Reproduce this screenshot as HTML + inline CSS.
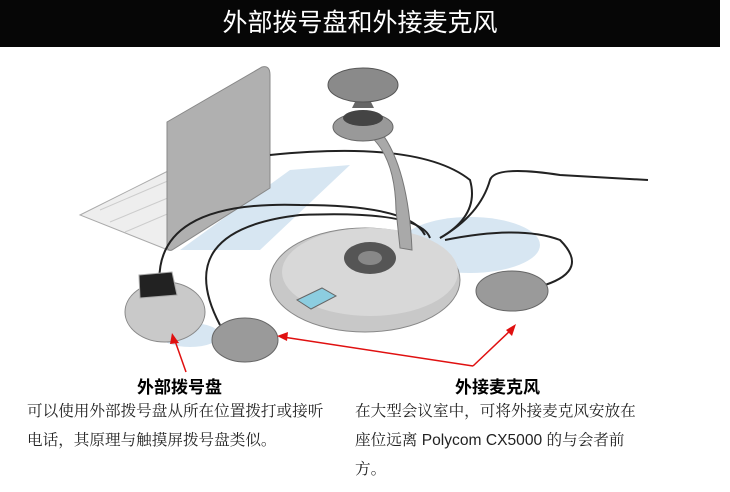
<!DOCTYPE html>
<html><head><meta charset="utf-8"><style>
body{margin:0;width:730px;height:492px;background:#fff;position:relative;overflow:hidden;font-family:"Liberation Sans","Noto Sans CJK SC",sans-serif}
.bar{position:absolute;left:0;top:0;width:720px;height:47px;background:#060606;color:#fff;font-size:25px;text-align:center;line-height:47px;font-family:"Liberation Sans","WenQuanYi Zen Hei",sans-serif}
.h{position:absolute;font-weight:bold;font-size:17px;color:#000}
.t{position:absolute;font-size:15.6px;line-height:29px;color:#222;font-family:"Liberation Sans","Noto Serif CJK SC",serif;white-space:nowrap}
svg{position:absolute;left:0;top:0}
</style></head><body>
<div class="bar">外部拨号盘和外接麦克风</div>
<svg width="730" height="492">
<g fill="#cde0ef" opacity="0.8">
<path d="M180 250 L290 170 L350 165 L260 250 Z"/>
<ellipse cx="470" cy="245" rx="70" ry="28"/>
<ellipse cx="190" cy="335" rx="30" ry="12"/>
</g>
<path d="M80 215 L180 165 L220 190 L168 250 Z" fill="#eee" stroke="#aaa"/>
<g stroke="#ccc" fill="none"><path d="M100 210 L170 180 M110 222 L175 195 M125 232 L172 212"/></g>
<path d="M167 122 L262 67 Q270 65 270 75 L270 188 L172 250 Q167 252 167 244 Z" fill="#b0b0b0" stroke="#888"/>
<g stroke="#222" stroke-width="2" fill="none">
<path d="M160 290 Q150 200 300 205 Q410 205 425 235"/>
<path d="M220 325 Q170 230 300 215 Q420 210 430 238"/>
<path d="M270 155 Q420 140 470 180 Q480 215 440 238"/>
<path d="M440 238 Q480 215 490 180 Q495 165 560 175 L648 180"/>
<path d="M445 240 Q520 225 560 240 Q590 270 545 285"/>
</g>
<ellipse cx="365" cy="280" rx="95" ry="52" fill="#c8c8c8" stroke="#888"/>
<ellipse cx="370" cy="272" rx="88" ry="44" fill="#d8d8d8"/>
<ellipse cx="370" cy="258" rx="26" ry="16" fill="#555"/>
<ellipse cx="370" cy="258" rx="12" ry="7" fill="#888"/>
<path d="M297 300 L322 288 L336 296 L311 309 Z" fill="#8ccde0" stroke="#666"/>
<path d="M362 130 Q395 150 396 210 L400 248 L412 250 Q408 160 375 125 Z" fill="#a9a9a9" stroke="#777"/>
<ellipse cx="363" cy="127" rx="30" ry="14" fill="#999" stroke="#666"/>
<ellipse cx="363" cy="118" rx="20" ry="8" fill="#444"/>
<path d="M352 108 L374 108 L368 96 L358 96 Z" fill="#666"/>
<ellipse cx="363" cy="85" rx="35" ry="17" fill="#8a8a8a" stroke="#555"/>
<ellipse cx="165" cy="312" rx="40" ry="30" fill="#c9c9c9" stroke="#888"/>
<path d="M139 275 L172 272 L177 295 L140 298 Z" fill="#222" stroke="#aaa"/>
<ellipse cx="245" cy="340" rx="33" ry="22" fill="#9a9a9a" stroke="#666"/>
<ellipse cx="512" cy="291" rx="36" ry="20" fill="#9a9a9a" stroke="#666"/>
<g stroke="#e01010" stroke-width="1.5" fill="none">
<path d="M186 372 L174 338"/><path d="M473 366 L283 337"/><path d="M473 366 L513 328"/>
</g>
<g fill="#e01010">
<path d="M172 333 L179 343 L170 344 Z"/>
<path d="M277 336 L288 332 L287 341 Z"/>
<path d="M516 324 L512 336 L506 330 Z"/>
</g>
</svg>
<div class="h" style="left:137px;top:373px">外部拨号盘</div>
<div class="h" style="left:455px;top:373px">外接麦克风</div>
<div class="t" style="left:27px;top:397px">可以使用外部拨号盘从所在位置拨打或接听<br>电话，其原理与触摸屏拨号盘类似。</div>
<div class="t" style="left:355px;top:397px">在大型会议室中，可将外接麦克风安放在<br>座位远离 Polycom CX5000 的与会者前<br>方。</div>
</body></html>
